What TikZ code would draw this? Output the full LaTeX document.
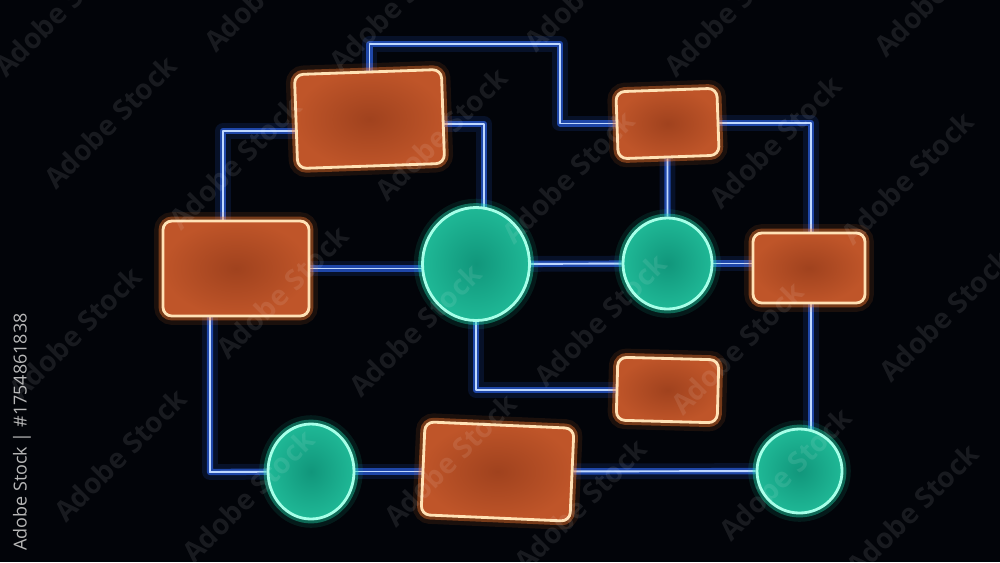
\documentclass[tikz,border=0pt]{standalone}
\usepackage{fontspec}
\newfontfamily\stockfont{Open Sans}
\usetikzlibrary{shapes.geometric,backgrounds}
\definecolor{bgblack}{HTML}{020409}
\definecolor{wirecore}{HTML}{BFD8FF}
\definecolor{wireglow}{HTML}{2F6BFF}
\definecolor{cardedge}{HTML}{FFE2B6}
\definecolor{cardglow}{HTML}{FF7A2E}
\definecolor{cardin}{HTML}{A0421E}
\definecolor{cardout}{HTML}{BF5529}
\definecolor{discedge}{HTML}{A6FFE8}
\definecolor{discglow}{HTML}{1FE0B2}
\definecolor{discin}{HTML}{11967B}
\definecolor{discout}{HTML}{1FB896}
\definecolor{idgray}{HTML}{B8B8B8}
\begin{document}
\begin{tikzpicture}
[wire/.style={draw=wirecore, line width=0.55pt, line join=round,
              preaction={draw=wireglow, line width=4.5pt, opacity=0.13, line join=round},
              preaction={draw=wireglow, line width=1.8pt, opacity=0.6, line join=round}},
 card/.style={rectangle, rounded corners=2.5pt, draw=cardedge, line width=0.8pt,
              inner sep=0pt, inner color=cardin, outer color=cardout,
              preaction={draw=cardglow, line width=5pt, opacity=0.1},
              preaction={draw=cardglow, line width=2.5pt, opacity=0.4}},
 disc/.style={ellipse, draw=discedge, line width=0.8pt,
              inner sep=0pt, inner color=discin, outer color=discout,
              preaction={draw=discglow, line width=5pt, opacity=0.1},
              preaction={draw=discglow, line width=2.5pt, opacity=0.4}},
 stamp/.style={rotate=45, text=white, opacity=0.09,
               font=\stockfont\bfseries\fontsize{8}{9}\selectfont}]
\useasboundingbox (0,0) rectangle (10,5.62);
% boxes
\node[card, minimum width=1.47cm, minimum height=0.94cm, rotate=2]    (r1) at (3.695,4.43) {};
\node[card, minimum width=1.46cm, minimum height=0.95cm]              (r2) at (2.36,2.935) {};
\node[card, minimum width=1.01cm, minimum height=0.67cm, rotate=2]    (r3) at (6.675,4.385) {};
\node[card, minimum width=1.12cm, minimum height=0.70cm]              (r4) at (8.09,2.94) {};
\node[card, minimum width=1.01cm, minimum height=0.63cm, rotate=-1.5] (r5) at (6.675,1.72) {};
\node[card, minimum width=1.49cm, minimum height=0.93cm, rotate=-2.5] (r6) at (4.975,0.905) {};
% circles
\node[disc, minimum width=1.07cm, minimum height=1.13cm] (c1) at (4.76,2.98) {};
\node[disc, minimum width=0.89cm, minimum height=0.91cm] (c2) at (6.675,2.985) {};
\node[disc, minimum width=0.86cm, minimum height=0.95cm] (c3) at (3.11,0.905) {};
\node[disc, minimum width=0.85cm, minimum height=0.84cm] (c4) at (7.995,0.91) {};
\begin{scope}[on background layer]
\fill[bgblack] (0,0) rectangle (10,5.62);
\coordinate (k1) at (5.60,5.18);
\coordinate (k2) at (2.23,4.31);
\coordinate (k3) at (4.84,4.38);
\coordinate (k8) at (8.11,4.39);
\coordinate (k11) at (2.10,0.90);
\draw[wire] (r1) |- (k1) |- (r3);
\draw[wire] (r1 |- k2) -- (k2) -- (k2 |- r2);
\draw[wire] (r1 |- k3) -- (k3) -- (k3 |- c1);
\draw[wire] (r2) -- (r2 -| c1);
\draw[wire] (c1) -- (c2);
\draw[wire] (r3) -- (c2);
\draw[wire] (c2) -- (c2 -| r4);
\draw[wire] (r3 |- k8) -- (k8) -- (k8 |- c4);
\draw[wire] (c1) |- (r5);
\draw[wire] (r2 -| k11) -- (k11) -- (c3);
\draw[wire] (c3) -- (c3 -| r6);
\draw[wire] (r6) -- (c4);
\end{scope}
% watermark
\begin{scope}
\clip (0,0) rectangle (10,5.62);
\foreach \x/\y [count=\i] in {0.60/5.52, 2.70/5.77, 3.95/5.57, 5.90/5.77, 7.30/5.52, 9.40/5.72,
                              1.10/4.40, 2.35/3.99, 4.41/4.28, 5.68/3.85, 7.75/4.20, 9.07/3.84,
                              0.75/2.29, 2.82/2.70, 4.15/2.32, 6.00/2.42, 7.37/2.14, 9.45/2.47,
                              1.20/1.07, 2.48/0.66, 4.50/1.02, 5.80/0.57, 7.85/0.88, 9.12/0.52}
  \node[stamp] (wm\i) at (\x,\y) {Adobe Stock};
\node[rotate=90, text=idgray, font=\stockfont\fontsize{5.1}{6}\selectfont] (stockid) at (0.22,1.30)
  {Adobe Stock | \#1754861838};
\end{scope}
\end{tikzpicture}
\end{document}
